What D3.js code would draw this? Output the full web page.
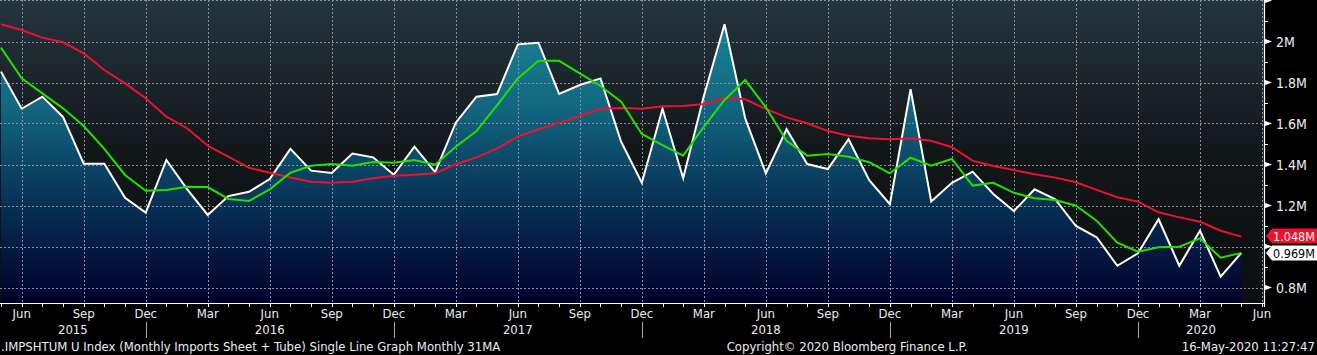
<!DOCTYPE html>
<html>
<head>
<meta charset="utf-8">
<script src="https://cdn.jsdelivr.net/npm/d3@7"></script>
<style>
html,body{margin:0;padding:0;background:#000;}
svg{display:block;}
text{font-family:"Liberation Sans Narrow","Arial Narrow","DejaVu Sans Condensed","Roboto Condensed",sans-serif;}
</style>
</head>
<body>
<svg id="chart" width="1317" height="355"></svg>
<script>
// ---- data (millions) ----
const startYear = 2015, startMonth = 4; // May 2015 (0-based month)
const monthNames = ["Jan","Feb","Mar","Apr","May","Jun","Jul","Aug","Sep","Oct","Nov","Dec"];
const imports = [1.853,1.672,1.731,1.632,1.404,1.404,1.238,1.165,
  1.422,1.280,1.154,1.246,1.267,1.329,1.476,1.370,1.359,1.453,1.435,1.350,
  1.487,1.363,1.604,1.731,1.744,1.986,1.994,1.744,1.788,1.820,1.511,1.311,
  1.672,1.333,1.734,2.084,1.625,1.357,1.572,1.402,1.378,1.523,1.324,1.206,
  1.767,1.219,1.311,1.365,1.256,1.173,1.279,1.230,1.100,1.045,0.906,0.967,
  1.133,0.906,1.077,0.853,0.969];
const maShort = [1.970,1.820,1.747,1.674,1.588,1.476,1.349,1.272,
  1.276,1.292,1.290,1.232,1.222,1.279,1.360,1.394,1.402,1.394,1.412,1.409,
  1.422,1.399,1.487,1.563,1.690,1.820,1.906,1.906,1.845,1.783,1.706,1.549,
  1.495,1.443,1.584,1.715,1.812,1.679,1.516,1.443,1.451,1.438,1.411,1.357,
  1.433,1.394,1.427,1.297,1.311,1.262,1.235,1.227,1.199,1.126,1.019,0.975,
  0.996,0.999,1.040,0.945,0.969];
const maLong = [2.084,2.056,2.019,1.996,1.942,1.861,1.796,1.723,
  1.633,1.577,1.492,1.438,1.384,1.360,1.337,1.316,1.311,1.316,1.333,1.345,
  1.350,1.357,1.401,1.435,1.479,1.536,1.572,1.604,1.638,1.672,1.676,1.672,
  1.684,1.685,1.695,1.724,1.718,1.671,1.630,1.601,1.563,1.540,1.528,1.523,
  1.528,1.516,1.484,1.419,1.393,1.373,1.352,1.336,1.313,1.276,1.240,1.219,
  1.167,1.142,1.121,1.077,1.048];
const yTickValues = [0.8,1.2,1.4,1.6,1.8,2.0];
const yTickLabels = ["0.8M","1.2M","1.4M","1.6M","1.8M","2M"];
const years = ["2015","2016","2017","2018","2019","2020"];
const footerLeft = ".IMPSHTUM U Index (Monthly Imports Sheet + Tube) Single Line Graph  Monthly 31MA";
const footerMid = "Copyright\u00A9 2020 Bloomberg Finance L.P.";
const footerRight = "16-May-2020 11:27:47";

// ---- layout ----
const svg = d3.select("#chart");
const W = 1317, H = 355;
const plotR = 1264, plotB = 303;
const nMonths = imports.length + 1; // through Jun 2020
const x = d3.scaleLinear().domain([0, nMonths - 1]).range([1, 1262]);
const y = d3.scaleLinear().domain([0.8, 2.0]).range([287.5, 41.5]);

const defs = svg.append("defs");
const bg = defs.append("linearGradient").attr("id","bg").attr("x1",0).attr("x2",0).attr("y1",0).attr("y2",1);
bg.append("stop").attr("offset","0%").attr("stop-color","#25343f");
bg.append("stop").attr("offset","50%").attr("stop-color","#121719");
bg.append("stop").attr("offset","100%").attr("stop-color","#0c0e0f");
const ag = defs.append("linearGradient").attr("id","area").attr("gradientUnits","userSpaceOnUse")
  .attr("x1",0).attr("x2",0).attr("y1",0).attr("y2",plotB);
ag.append("stop").attr("offset","0%").attr("stop-color","#1b8a9d");
ag.append("stop").attr("offset","35%").attr("stop-color","#126780");
ag.append("stop").attr("offset","65%").attr("stop-color","#083459");
ag.append("stop").attr("offset","100%").attr("stop-color","#00002a");
defs.append("clipPath").attr("id","clip").append("rect").attr("x",0).attr("y",0).attr("width",plotR).attr("height",plotB);

svg.append("rect").attr("width",W).attr("height",H).attr("fill","#000");
svg.append("rect").attr("width",plotR).attr("height",plotB).attr("fill","url(#bg)");

const g = svg.append("g").attr("clip-path","url(#clip)");

// area
const area = d3.area().x((d,i)=>x(i)).y0(plotB).y1(d=>y(d));
g.append("path").datum(imports).attr("d",area).attr("fill","url(#area)");

// grid
const gridY = [0.8,1.0,1.2,1.4,1.6,1.8,2.0,2.2];
g.selectAll(".gy").data(gridY).join("line")
  .attr("x1",0).attr("x2",plotR).attr("y1",d=>Math.round(y(d))+0.5).attr("y2",d=>Math.round(y(d))+0.5)
  .attr("stroke","#8a9299").attr("stroke-width",1).attr("stroke-dasharray","2,2");
const monthIdx = d3.range(nMonths);
const quarterIdx = monthIdx.filter(i => (startMonth + i) % 3 === 2);
g.selectAll(".gx").data(quarterIdx).join("line")
  .attr("x1",i=>Math.round(x(i))+0.5).attr("x2",i=>Math.round(x(i))+0.5).attr("y1",0).attr("y2",plotB)
  .attr("stroke","#8a9299").attr("stroke-width",1).attr("stroke-dasharray","2,2");

// lines
const line = d3.line().x((d,i)=>x(i)).y(d=>y(d));
g.append("path").datum(imports).attr("d",line).attr("fill","none").attr("stroke","#ffffff").attr("stroke-width",2);
g.append("path").datum(maLong).attr("d",line).attr("fill","none").attr("stroke","#f0102e").attr("stroke-width",2);
g.append("path").datum(maShort).attr("d",line).attr("fill","none").attr("stroke","#22e000").attr("stroke-width",2);

// right axis
svg.append("line").attr("x1",plotR+0.5).attr("x2",plotR+0.5).attr("y1",0).attr("y2",plotB+4).attr("stroke","#fff").attr("stroke-width",1.2);
const minor = d3.range(8,23).map(v=>v/10);
svg.selectAll(".ymin").data(minor).join("line")
  .attr("x1",plotR).attr("x2",plotR+4).attr("y1",d=>Math.round(y(d))+0.5).attr("y2",d=>Math.round(y(d))+0.5)
  .attr("stroke","#fff").attr("stroke-width",1);
const majors = [0.8,1.0,1.2,1.4,1.6,1.8,2.0,2.2];
svg.selectAll(".ymaj").data(majors).join("path")
  .attr("d",d=>{const yy=y(d);return `M${plotR},${yy-3}L${plotR+8},${yy}L${plotR},${yy+3}Z`;})
  .attr("fill","#fff");
svg.selectAll(".ylab").data(yTickValues).join("text")
  .attr("x",plotR+12).attr("y",d=>y(d)+5).attr("fill","#e8eef2").attr("font-size",14)
  .text((d,i)=>yTickLabels[i]);

// bottom axis
svg.append("line").attr("x1",0).attr("x2",plotR+0.5).attr("y1",plotB+0.5).attr("y2",plotB+0.5).attr("stroke","#fff").attr("stroke-width",1.2);
svg.selectAll(".xt").data(monthIdx).join("line")
  .attr("x1",i=>Math.round(x(i))+0.5).attr("x2",i=>Math.round(x(i))+0.5).attr("y1",plotB).attr("y2",plotB+4)
  .attr("stroke","#fff").attr("stroke-width",1);
svg.selectAll(".xl").data(quarterIdx).join("text")
  .attr("x",i=>x(i)).attr("y",318).attr("text-anchor","middle").attr("fill","#e8eef2").attr("font-size",13)
  .text(i=>monthNames[(startMonth+i)%12]);
// year separators at Dec
const decIdx = monthIdx.filter(i => (startMonth + i) % 12 === 11);
svg.selectAll(".ysep").data(decIdx).join("line")
  .attr("x1",i=>Math.round(x(i))+0.5).attr("x2",i=>Math.round(x(i))+0.5).attr("y1",322).attr("y2",338)
  .attr("stroke","#aaa").attr("stroke-width",1);
const bounds = [0, ...decIdx.map(i=>x(i)), plotR];
svg.selectAll(".yl").data(years).join("text")
  .attr("x",(d,i)=>(bounds[i]+bounds[i+1])/2).attr("y",334).attr("text-anchor","middle")
  .attr("fill","#e8eef2").attr("font-size",13).text(d=>d);

// last value tags
function tag(yy, fill, txtFill, label){
  const h=15, x0=plotR+2;
  svg.append("path").attr("d",`M${x0},${yy}L${x0+6},${yy-h/2}L${W},${yy-h/2}L${W},${yy+h/2}L${x0+6},${yy+h/2}Z`).attr("fill",fill);
  svg.append("text").attr("x",x0+7).attr("y",yy+4.5).attr("fill",txtFill).attr("font-size",12.5).text(label);
}
tag(236, "#f0102e", "#ffffff", d3.format(".3f")(maLong[maLong.length-1])+"M");
tag(253, "#ffffff", "#000000", d3.format(".3f")(imports[imports.length-1])+"M");

// footer
svg.append("text").attr("x",1).attr("y",351).attr("fill","#e8eef2").attr("font-size",13).text(footerLeft);
svg.append("text").attr("x",847).attr("y",351).attr("text-anchor","middle").attr("fill","#e8eef2").attr("font-size",13).text(footerMid);
svg.append("text").attr("x",1315).attr("y",351).attr("text-anchor","end").attr("fill","#e8eef2").attr("font-size",13).text(footerRight);
</script>
</body>
</html>
